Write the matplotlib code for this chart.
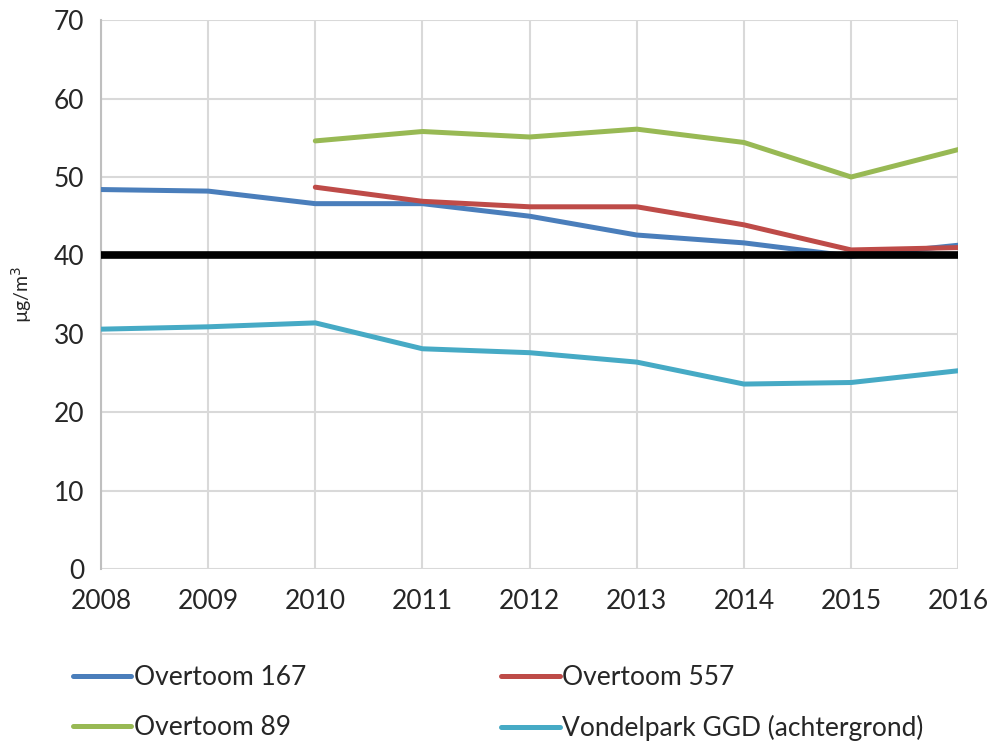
import matplotlib
matplotlib.use("Agg")
import matplotlib.pyplot as plt
import numpy as np

# jaren en meetwaarden (NO2, ug/m3)
jaren = [2008, 2009, 2010, 2011, 2012, 2013, 2014, 2015, 2016]
overtoom_167 = [48.4, 48.2, 46.6, 46.6, 45.0, 42.6, 41.6, 39.9, 41.3]
overtoom_557 = [None, None, 48.7, 46.9, 46.2, 46.2, 43.9, 40.7, 41.0]
overtoom_89 = [None, None, 54.6, 55.8, 55.1, 56.1, 54.4, 50.0, 53.5]
vondelpark = [30.6, 30.9, 31.4, 28.1, 27.6, 26.4, 23.6, 23.8, 25.3]
norm = [40] * len(jaren)

namen = ["Overtoom 167", "Overtoom 557", "Overtoom 89", "Vondelpark GGD (achtergrond)"]
kleuren = ["#4a7ebb", "#be4b48", "#98b954", "#46aac5"]

plt.rcParams['font.family'] = ['Lato', 'DejaVu Sans']

fig = plt.figure(figsize=(9.9, 7.45), dpi=100)
ax = fig.add_axes([0.102, 0.236, 0.866, 0.737])

def naar_array(waarden):
    return np.array([np.nan if v is None else v for v in waarden], dtype=float)

reeksen = [overtoom_167, overtoom_557, overtoom_89, vondelpark]
lijnen = []
for reeks, naam, kleur in zip(reeksen, namen, kleuren):
    l, = ax.plot(jaren, naar_array(reeks), color=kleur, lw=3.6, label=naam,
                 solid_capstyle='round', zorder=3)
    lijnen.append(l)

# grenswaarde 40 ug/m3
ax.plot(jaren, norm, color='black', lw=5.5, zorder=4)

ax.set_xlim(2008, 2016)
ax.set_ylim(0, 70)
ax.set_xticks(jaren)
ax.set_yticks(range(0, 71, 10))
ax.grid(True, color='#d9d9d9', lw=1.5, zorder=0)
for s in ['top', 'right', 'bottom']:
    ax.spines[s].set_visible(False)
ax.spines['left'].set_color('#bfbfbf')
ax.spines['left'].set_linewidth(1.5)
ax.tick_params(length=0, labelsize=19, colors='#262626')
ax.tick_params(axis='x', pad=14)
ax.tick_params(axis='y', pad=12)
ax.set_ylabel('µg/m$^3$', fontsize=14, color='#262626', labelpad=14)

# legenda rij voor rij, zoals in het origineel
volgorde = [0, 2, 1, 3]
fig.legend([lijnen[i] for i in volgorde], [namen[i] for i in volgorde],
           loc='lower left', bbox_to_anchor=(0.05, -0.027), ncol=2,
           frameon=False, fontsize=19, handlelength=2.2, handletextpad=0.1,
           columnspacing=7.4, labelspacing=0.95, labelcolor='#262626')

fig.savefig('out.png', dpi=100)
